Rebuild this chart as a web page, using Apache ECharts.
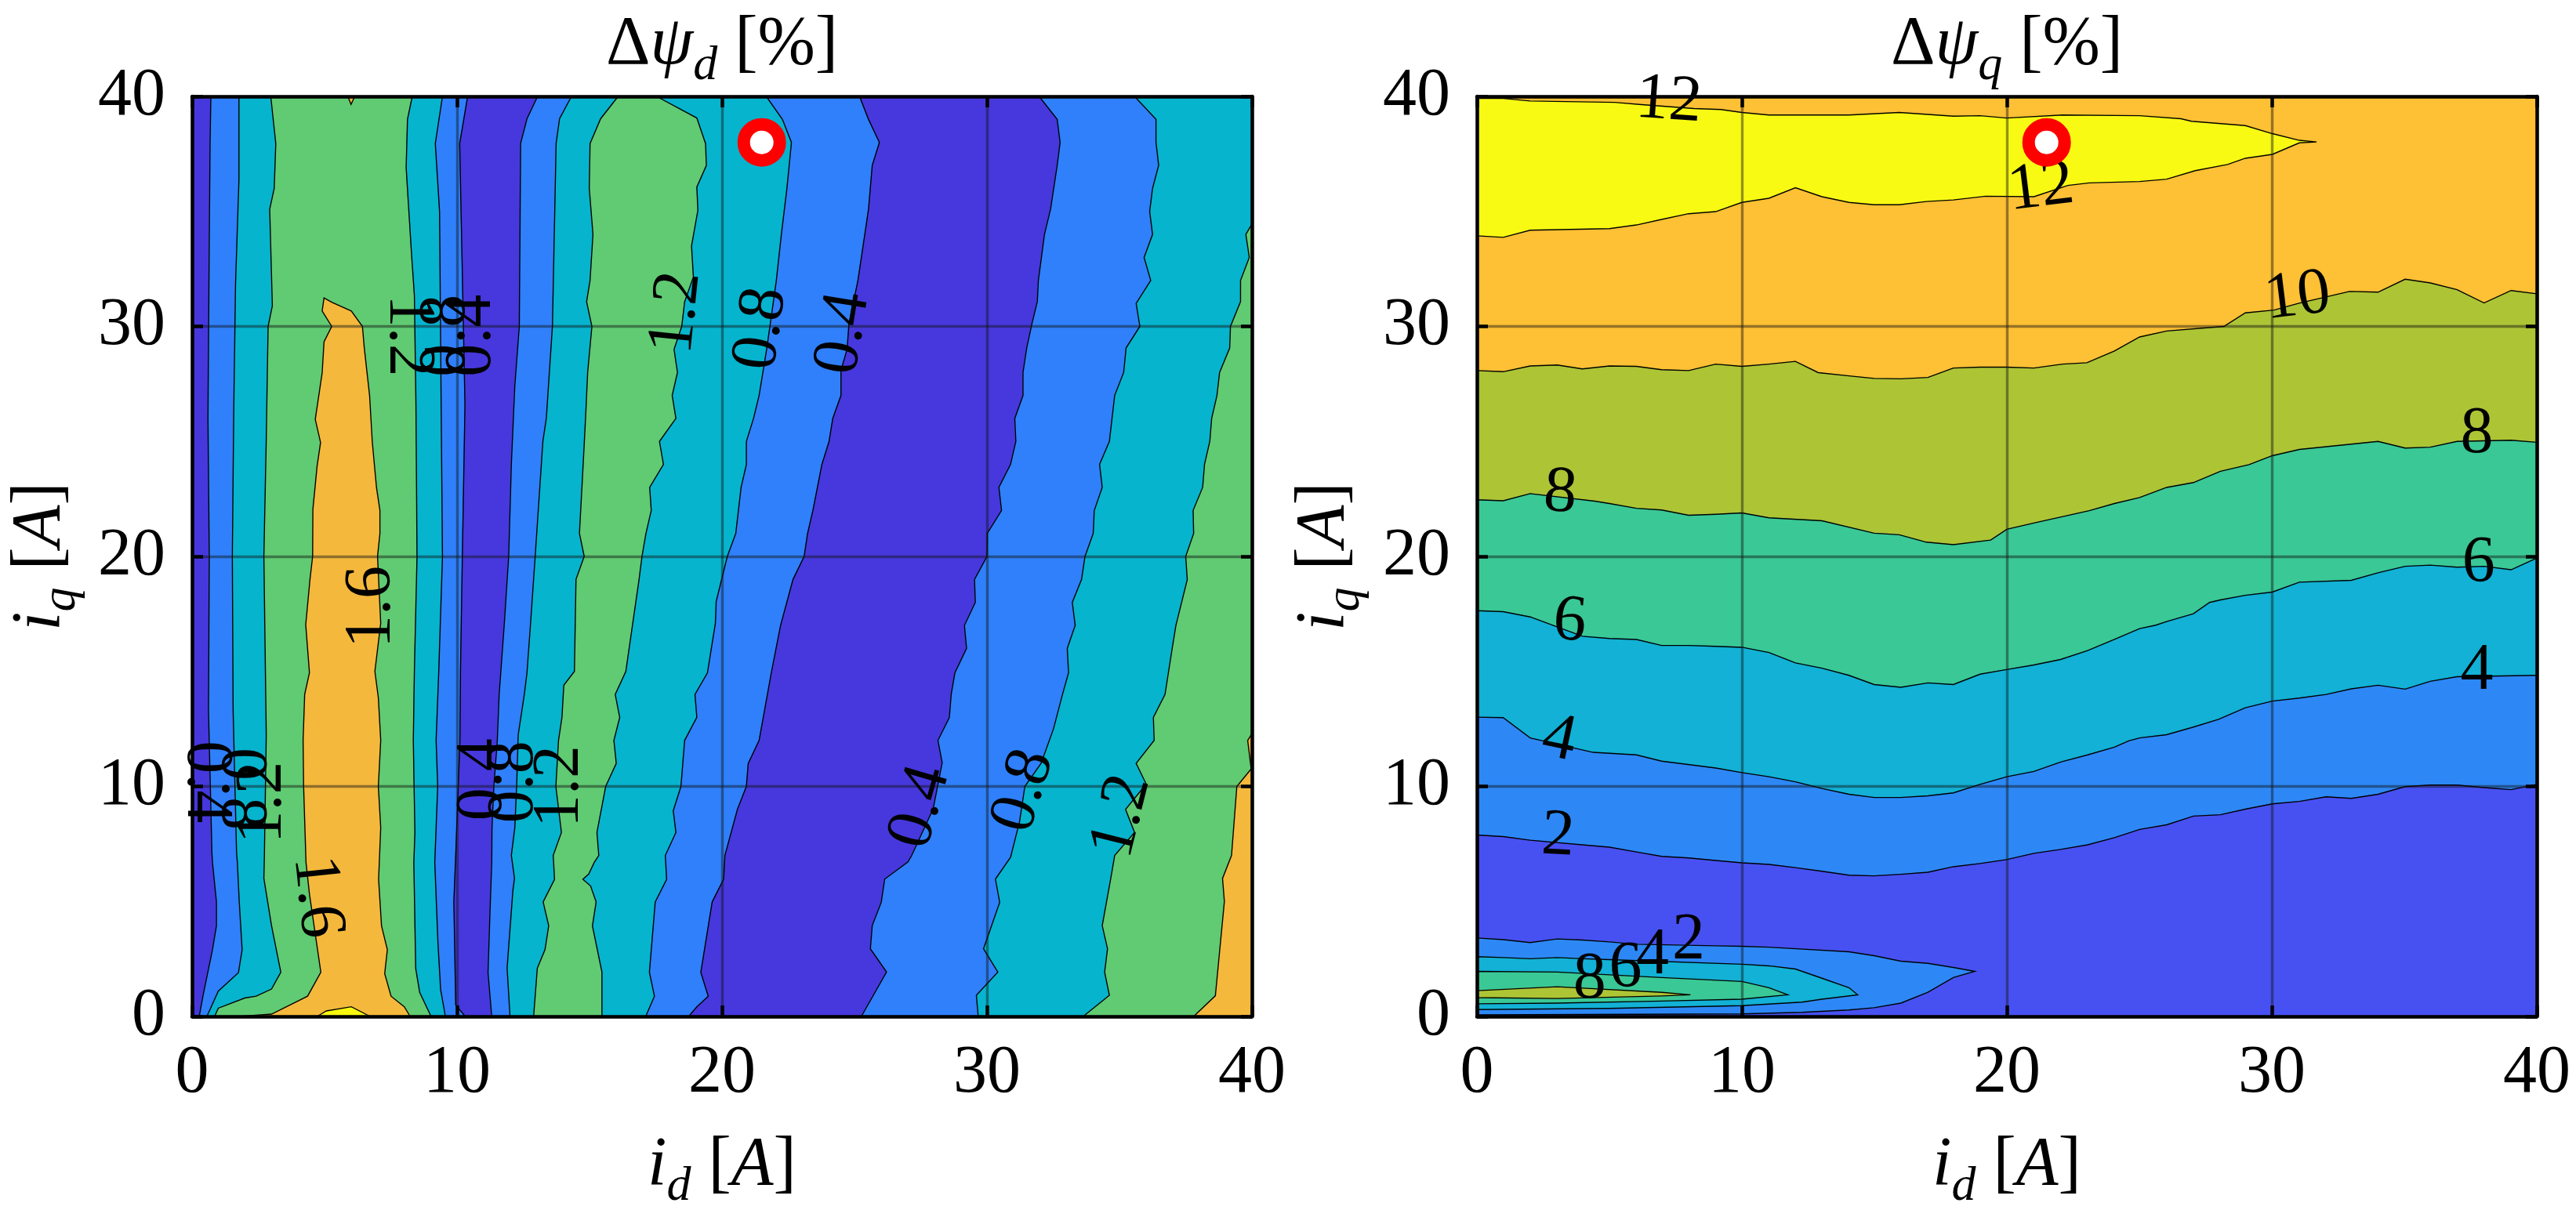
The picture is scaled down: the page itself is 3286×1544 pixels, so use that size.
<!DOCTYPE html>
<html>
<head>
<meta charset="utf-8">
<script src="https://cdn.jsdelivr.net/npm/echarts/dist/echarts.min.js"></script>
<style>
  html, body { margin: 0; padding: 0; background: #fff; }
  #chart { width: 3286px; height: 1544px; }
</style>
</head>
<body>
<div id="chart"></div>
<script>
// ---------- left map: delta psi_d, contour boundaries [id, iq] (bottom -> top) ----------
const dLevels = [0.4, 0.8, 1.2, 1.6, 2.0];
const dColors = ['#4638DC', '#2F80FA', '#06B4CE', '#60CB72', '#F4B83C', '#F8F80F'];

const dB1 = [[0.27,0],[0.42,0.94],[0.77,2.9],[0.92,3.94],[0.92,4.98],[0.77,6.7],[0.75,7.1],[0.62,13.3],[0.65,20],[0.6,26],[0.65,33.8],[0.68,38],[0.71,40]];
const dB2 = [[0.56,0],[0.99,1.1],[1.75,1.9],[1.89,2.9],[1.78,5],[1.71,6.7],[1.68,7.1],[1.55,13.3],[1.52,20],[1.57,26],[1.64,31.8],[1.77,36.4],[1.77,40]];
const dB3 = [[0.85,0],[0.99,0.36],[1.99,0.8],[2.42,0.88],[3.0,1.19],[3.35,1.92],[3.0,3.94],[2.71,6.0],[2.73,7.0],[2.8,12.25],[2.71,20],[2.8,25.1],[2.87,30],[3.03,30.9],[2.93,35.1],[3.1,36],[3.16,37.95],[2.97,40]];
const dB5 = [[9.02,0],[8.59,1.05],[8.44,2.09],[8.37,6.7],[8.41,8],[8.35,12],[8.39,15],[8.49,20],[8.45,26.6],[8.39,31.35],[8.28,33.2],[8.08,36.9],[8.13,39],[8.31,40]];
const dB6 = [[9.56,0],[9.38,1.17],[9.28,3.2],[9.16,6.7],[9.27,10],[9.21,12],[9.31,15],[9.45,20],[9.4,26.6],[9.34,35],[9.18,37.95],[9.45,40]];
const dB7 = [[10.31,0],[9.95,0.5],[9.88,5],[9.95,7],[10.11,12],[10.13,15],[10.2,20],[10.3,26.6],[10.24,30],[10.1,37.95],[10.4,40]];
const dB8 = [[11.31,0],[11.17,1.9],[11.24,4.4],[11.31,6.7],[11.32,8.2],[11.39,10],[11.52,12],[11.59,14],[11.78,17],[11.95,20],[12.05,24],[12.18,27.4],[12.35,30],[12.4,37.95],[12.64,39.03],[13.04,40]];
const dB9 = [[12.0,0],[11.89,2.1],[12.11,5.5],[12.17,6],[12.05,7],[12.18,8.2],[12.25,10],[12.31,12.25],[12.54,14],[12.64,14.94],[12.77,17],[12.95,20],[13.24,25],[13.37,26],[13.6,30],[13.74,37.95],[13.87,39.03],[14.32,40]];
const dB10 = [[12.89,0],[13.03,2.1],[13.32,2.9],[13.46,3.94],[13.25,4.98],[13.68,5.96],[13.63,7],[13.94,8],[13.73,10],[13.83,12],[13.96,13],[14.03,14.4],[14.43,15],[14.46,17],[14.49,19],[14.8,20],[14.62,21],[14.76,24],[14.85,26],[14.93,28],[15.09,30],[14.89,31.07],[15.02,32],[15.13,34],[14.99,36],[15.02,37.95],[15.42,39.03],[16.08,40]];
const dB11 = [[15.47,0],[15.47,1.92],[15.11,3.94],[15.25,4.98],[15.04,5.67],[14.75,5.96],[14.97,6.19],[15.18,6.7],[15.35,7],[15.28,8],[15.61,10],[16.01,11],[15.92,12],[16.14,13],[15.97,14],[16.37,15],[16.87,19],[16.98,20],[17.13,21],[17.33,22],[17.27,23],[17.79,24],[17.64,25],[18.26,26],[18.12,27],[18.32,28],[18.19,29],[18.48,30],[18.59,31.07],[18.92,32.15],[18.85,33.5],[19.09,35.05],[19.05,36.06],[19.41,37],[19.38,37.95],[19.05,39.06],[17.53,40]];
const dB12 = [[17.12,0],[17.45,0.88],[17.26,1.92],[17.48,4.98],[17.91,5.96],[17.86,7],[18.26,8],[18.16,8.94],[18.45,10],[18.59,12],[19.05,13],[18.98,14],[19.45,14.94],[19.75,17.1],[19.78,18.04],[20.2,20],[20.52,21],[20.72,23],[20.92,24],[20.92,25],[21.19,26],[21.4,27],[21.67,28.9],[21.87,30.5],[22.05,32],[22.24,34],[22.45,36],[22.62,38],[22.28,39],[21.67,40]];
const dB13 = [[18.74,0],[19.05,0.42],[19.48,0.88],[19.2,1.92],[19.63,4.98],[20.06,5.96],[20.11,7],[20.58,9],[20.92,10],[20.99,11],[21.4,12],[21.87,15],[22.21,17],[22.68,19],[23.1,20],[23.23,21],[23.43,22],[23.77,24],[24.04,25],[24.18,26],[24.49,27],[24.49,28.1],[24.72,29],[24.79,30.1],[25.13,32],[25.26,33],[25.53,35.1],[25.67,37],[25.94,38],[25.53,39],[25.19,40]];
const dB14 = [[25.26,0],[26.21,1.93],[25.6,2.94],[25.67,3.95],[26.01,4.96],[26.14,5.97],[27.02,6.72],[27.16,7],[27.97,9.03],[28.31,11.03],[28.15,12],[28.58,13],[28.65,14],[28.79,14.94],[29.23,16],[29.15,17],[29.56,18],[29.53,19],[30.0,20],[30.01,21],[30.55,22],[30.45,23],[30.89,24],[31.09,25],[31.05,26],[31.36,27],[31.36,28],[31.5,29.06],[31.7,30.13],[31.9,31.08],[31.94,32],[32.17,34],[32.4,35.1],[32.65,37],[32.76,38],[32.65,39],[31.97,40]];
const dB15 = [[29.67,0],[29.6,0.92],[30.41,1.93],[29.87,2.94],[30.48,4.96],[30.32,5.97],[30.89,6.92],[31.23,8.47],[31.43,10],[32.04,11],[32.51,12.5],[32.85,14],[33.08,14.94],[33.03,16],[33.33,17],[33.22,18],[33.57,19],[33.7,20],[34.01,21],[34.05,22],[34.35,23],[34.25,24],[34.62,25],[34.82,27],[35.16,28],[35.25,29.06],[35.77,30],[35.63,31],[36.18,32],[35.93,33],[36.25,34],[36.14,35],[36.25,36],[36.48,37],[36.38,38],[36.38,39],[35.57,40]];
const dB16 = [[33.63,0],[34.62,0.92],[34.44,1.93],[34.55,2.94],[34.35,3.95],[34.68,6.05],[34.82,7],[35.57,8],[35.23,9],[36.01,10.1],[35.63,11],[36.31,12],[36.28,13],[36.72,14],[36.99,16],[37.13,17],[37.56,19],[37.5,20],[37.8,21],[37.78,22],[38.14,23],[38.21,24],[38.41,25],[38.48,26],[38.68,27],[38.78,28],[39.16,29.06],[39.19,30],[39.57,31.08],[39.57,32],[39.9,33],[39.77,34],[40,34.45],[40,40]];
const dB17 = [[37.8,0],[38.62,0.9],[38.96,5],[38.89,6],[39.23,7],[39.43,10],[39.97,10.76],[39.84,12],[40,12.3],[40,40]];
// closed patches
const dOrangeL = [[1.8,0],[3.0,0.1],[3.86,0.59],[4.36,0.88],[4.86,1.92],[4.43,5.32],[4.3,6.7],[4.21,10],[4.19,12],[4.25,14],[4.43,14.94],[4.29,17.03],[4.45,19],[4.55,20],[4.56,22.05],[4.72,23.94],[4.85,24.95],[4.65,25.96],[4.91,27.98],[4.98,29.33],[5.27,30],[4.91,30.67],[4.98,31.24],[5.27,31.05]];
const dOrangeR = [[8.23,0],[8.01,0.42],[7.51,0.88],[7.27,1.86],[7.37,2.9],[7.15,3.94],[7.04,5.96],[7.12,8.2],[7.03,10],[7.12,12],[7.03,13.86],[6.9,15],[7.12,17.1],[7.0,20],[7.09,21],[7.09,22],[6.96,23],[6.8,25],[6.7,27],[6.5,29.06],[6.43,30],[6.01,30.67]];
const dYellow = [[4.72,0],[5.07,0.24],[6.01,0.42],[6.72,0]];
const dOrangeTop = [[5.88,40],[6.0,39.65],[6.14,40]];

const dLabelText = ['1.2','0.8','0.4','1.2','0.8','0.4','0.4','0.8','1.2','1.6','1.6','0.4','0.8','1.2','0.4','0.8','1.2'];
const dLabelPos = [[18.3,30.6],[21.5,29.9],[24.6,29.7],[8.15,29.6],[9.6,29.6],[10.6,29.6],[0.5,10.2],[1.8,9.9],[2.7,9.3],[4.7,5.2],[6.8,17.8],[11.0,10.3],[12.2,10.2],[13.9,10.0],[27.5,9.1],[31.4,9.8],[35.1,8.7]];
const dLabelRot = [84, 82, 81, -90, 90, 90, -90, -90, 90, -84, 90, 90, 90, 90, 74, 73, 76];

// ---------- right map: delta psi_q, contour boundaries [id, iq] (left -> right) ----------
const qLevels = [2, 4, 6, 8, 10, 12];
const qColors = ['#4751F1', '#2D88F6', '#12B1D5', '#39C896', '#ADC435', '#FEC034', '#F9FA14'];

const qR1 = [[0,39.91],[0.99,39.91],[2.01,39.8],[5.2,39.74],[6.22,39.64],[8.19,39.47],[9.21,39.43],[10,39.3],[11.02,39.19],[14.04,39.19],[15.94,39.3],[17.98,39.14],[18.99,39.16],[19.99,39.06],[22.1,39.19],[25.01,39.16],[26.57,39.03],[26.97,38.92],[29.0,38.73],[30.02,38.38],[31.04,38.09],[31.69,38.02]];
const qR2 = [[0,33.94],[0.99,33.87],[2.01,34.18],[5.0,34.25],[6.02,34.41],[6.97,34.65],[7.99,34.9],[9.01,34.99],[10,35.39],[11.02,35.57],[12.02,36.03],[13.02,35.64],[14.04,35.39],[14.99,35.29],[15.94,35.29],[16.96,35.43],[17.98,35.5],[19.2,35.66],[21.02,35.64],[22.3,36.13],[23.11,36.24],[25.01,36.3],[26.03,36.4],[27.11,36.77],[28.33,37.04],[29.0,37.31],[30.02,37.48],[31.04,37.98],[31.69,38.02]];
const qR3 = [[0,28.08],[0.99,28.03],[2.01,28.28],[3.03,28.32],[3.98,28.15],[5.0,28.28],[6.02,28.26],[6.97,28.12],[7.99,28.08],[9.01,28.36],[10,28.26],[11.02,28.36],[12.02,28.48],[12.88,27.99],[14.04,27.85],[14.99,27.74],[16.0,27.72],[17.02,27.78],[17.98,28.19],[18.99,28.23],[19.99,28.23],[21.02,28.19],[22.1,28.36],[23.02,28.42],[24.06,28.93],[25.01,29.54],[26.03,29.8],[28.19,30.0],[29.0,30.59],[30.09,30.71],[31.0,31.0],[32.93,31.52],[34.01,31.49],[35.03,32.05],[35.98,31.89],[36.99,31.6],[38.01,31.02],[39.03,31.56],[40,31.42]];
const qR4 = [[0,22.46],[0.99,22.42],[2.01,22.73],[4.45,22.4],[5.0,22.3],[6.02,22.09],[6.97,22.02],[7.99,21.79],[9.01,21.83],[10,21.89],[11.02,21.68],[13.02,21.55],[14.99,21.01],[15.94,20.94],[16.96,20.62],[17.98,20.51],[19.39,20.71],[20,21.18],[21.02,21.45],[23.11,21.99],[24.06,22.3],[25.01,22.56],[26.03,23.0],[27.04,23.21],[28.06,23.7],[29.14,23.99],[30.02,24.38],[31.04,24.65],[34.01,25.0],[35.03,24.71],[35.98,24.75],[36.99,25.0],[39.03,25.05],[40,24.96]];
const qR5 = [[0,17.64],[0.99,17.6],[2.01,17.37],[3.98,16.53],[5.0,16.43],[6.02,16.39],[6.97,16.13],[7.99,16.13],[9.01,16.09],[10,16.05],[11.02,15.82],[12.02,15.37],[13.02,15.14],[14.04,14.83],[14.99,14.43],[16.0,14.31],[17.02,14.5],[17.98,14.43],[18.99,14.88],[19.99,15.08],[21.02,15.28],[22.03,15.52],[23.05,15.91],[24.06,16.39],[25.01,16.86],[25.62,17.01],[26.03,17.17],[27.04,17.51],[27.65,18.0],[28.06,18.11],[29.0,18.31],[30.02,18.45],[31.04,18.88],[33.0,18.96],[34.01,19.29],[35.03,19.57],[35.98,19.62],[36.99,19.53],[38.01,19.57],[39.03,19.42],[40,19.93]];
const qR6 = [[0,13.01],[0.99,12.99],[2.01,12.11],[4.39,11.48],[6.02,11.37],[6.97,11.1],[9.01,10.8],[10,10.6],[11.02,10.42],[12.02,10.2],[13.02,9.91],[14.04,9.66],[14.99,9.52],[16.0,9.52],[17.02,9.59],[17.98,9.72],[18.99,10.09],[20,10.42],[21.02,10.65],[22.03,11.06],[23.05,11.37],[24.06,11.71],[24.6,11.98],[25.01,12.11],[26.03,12.25],[27.04,12.58],[27.99,12.92],[29.0,13.42],[30.02,13.71],[31.04,13.84],[32.05,14.0],[33.0,14.24],[34.01,14.4],[35.03,14.23],[35.98,14.57],[36.99,14.77],[40,14.83]];
const qR7 = [[0,7.89],[0.99,7.82],[2.01,7.66],[4.39,7.42],[5.0,7.36],[6.02,7.15],[6.97,6.96],[7.99,6.89],[9.01,6.78],[10,6.68],[11.02,6.61],[12.02,6.47],[13.02,6.31],[14.04,6.14],[14.99,6.11],[16.0,6.18],[17.02,6.27],[17.98,6.51],[18.99,6.65],[19.99,6.82],[21.02,7.09],[22.03,7.26],[23.05,7.46],[24.06,7.77],[25.01,8.13],[26.03,8.33],[27.04,8.71],[28.06,8.77],[29.0,9.01],[30.02,9.24],[31.04,9.35],[32.05,9.55],[33.0,9.48],[34.01,9.66],[35.03,9.99],[35.98,10.06],[36.99,10.06],[38.01,9.95],[39.03,9.86],[40,10.09]];
// closed low-iq island (outer to inner: 2, 4, 6, 8)
const qC2 = [[0,3.41],[0.99,3.34],[2.01,3.21],[3.03,3.37],[3.98,3.32],[5.0,3.24],[6.02,3.14],[9.01,3.07],[10,3.05],[11.02,3.01],[14.04,2.81],[14.99,2.64],[16.0,2.4],[17.02,2.31],[17.98,2.13],[18.79,1.96],[17.98,1.69],[17.02,1.05],[16.0,0.58],[14.99,0.38],[14.04,0.28],[12.27,0.18],[10,0.11],[0,0.07]];
const qC4 = [[0,2.6],[0.99,2.56],[2.01,2.51],[3.03,2.56],[3.98,2.51],[5.0,2.47],[10,2.27],[11.02,2.2],[12.02,2.06],[13.02,1.66],[14.04,1.25],[14.37,0.94],[13.02,0.75],[12.27,0.62],[10,0.47],[5.0,0.35],[0,0.3]];
const qC6 = [[0,1.96],[3.03,1.93],[6.97,1.69],[10,1.52],[11.02,1.25],[11.73,0.94],[10,0.75],[6.97,0.67],[3.03,0.58],[0,0.55]];
const qC8 = [[0,1.12],[3.03,1.29],[6.97,1.05],[8.06,0.94],[6.97,0.89],[3.03,0.78],[0,0.82]];

const qLabelText = ['12','12','10','8','6','4','8','6','4','2','8','6','4','2'];
const qLabelPos = [[7.24,39.78],[21.29,36.0],[30.97,31.26],[37.74,25.27],[37.8,19.66],[37.74,15.01],[3.14,22.73],[3.5,17.14],[3.1,12.02],[3.06,7.82],[4.25,1.56],[5.61,2.03],[6.63,2.64],[7.99,3.29]];
const qLabelRot = [-4, 7, 7, 0, 0, 0, -4, -5, -12, -3, 0, 0, 0, 0];

// operating point marker
const markerPt = [21.5, 38.0];

const tickLabels = ['0', '10', '20', '30', '40'];

// ---------- build shapes ----------
const FONT = 'Liberation Serif';
const closeLoop = (p) => p.concat([p[0]]);
const toRight = (p) => p.concat([[40, 40], [40, 0]]);
const toBottom = (p) => p.concat([[40, 0], [0, 0]]);

const dFills = [
  { poly: toRight(dB1), c: 1 }, { poly: toRight(dB2), c: 2 }, { poly: toRight(dB3), c: 3 },
  { poly: toRight(dB5), c: 2 }, { poly: toRight(dB6), c: 1 }, { poly: toRight(dB7), c: 0 },
  { poly: toRight(dB8), c: 1 }, { poly: toRight(dB9), c: 2 }, { poly: toRight(dB10), c: 3 },
  { poly: toRight(dB11), c: 2 }, { poly: toRight(dB12), c: 1 }, { poly: toRight(dB13), c: 0 },
  { poly: toRight(dB14), c: 1 }, { poly: toRight(dB15), c: 2 }, { poly: toRight(dB16), c: 3 },
  { poly: toRight(dB17), c: 4 },
  { poly: dOrangeL.concat(dOrangeR.slice().reverse()), c: 4 },
  { poly: dOrangeTop, c: 4 },
  { poly: dYellow, c: 5 }
];
const dLines = [dB1, dB2, dB3, dB5, dB6, dB7, dB8, dB9, dB10, dB11, dB12, dB13, dB14, dB15, dB16, dB17,
  dOrangeL.concat(dOrangeR.slice().reverse()), dOrangeTop, dYellow];

const qYellow = qR1.concat(qR2.slice().reverse());
const qFills = [
  { poly: qYellow, c: 6 },
  { poly: toBottom(qR3), c: 4 }, { poly: toBottom(qR4), c: 3 }, { poly: toBottom(qR5), c: 2 },
  { poly: toBottom(qR6), c: 1 }, { poly: toBottom(qR7), c: 0 },
  { poly: qC2, c: 1 }, { poly: qC4, c: 2 }, { poly: qC6, c: 3 }, { poly: qC8, c: 4 }
];
const qLines = [closeLoop(qYellow), qR3, qR4, qR5, qR6, qR7,
  closeLoop(qC2), closeLoop(qC4), closeLoop(qC6), closeLoop(qC8)];

function fillSeries(gi, shapes, colors) {
  return {
    type: 'custom', xAxisIndex: gi * 2, yAxisIndex: gi * 2, silent: true, z: 2,
    data: [0],
    renderItem: function (params, api) {
      return {
        type: 'group',
        children: shapes.map(s => ({
          type: 'polygon',
          shape: { points: s.poly.map(p => api.coord(p)) },
          style: { fill: colors[s.c], stroke: colors[s.c], lineWidth: 1 }
        }))
      };
    }
  };
}

function lineSeries(gi, lines) {
  return {
    type: 'custom', xAxisIndex: gi * 2, yAxisIndex: gi * 2, silent: true, z: 3,
    data: [0],
    renderItem: function (params, api) {
      return {
        type: 'group',
        children: lines.map(l => ({
          type: 'polyline',
          shape: { points: l.map(p => api.coord(p)) },
          style: { stroke: '#000', lineWidth: 1.4, fill: null }
        }))
      };
    }
  };
}

function labelSeries(gi, texts, pos, rot) {
  return {
    type: 'custom', xAxisIndex: gi * 2, yAxisIndex: gi * 2, silent: true, z: 10,
    data: [0],
    renderItem: function (params, api) {
      return {
        type: 'group',
        children: texts.map((t, i) => {
          const p = api.coord(pos[i]);
          return {
            type: 'text', x: p[0], y: p[1], rotation: rot[i] * Math.PI / 180,
            style: { text: t, fontSize: 84, fontFamily: FONT, fill: '#000', align: 'center', verticalAlign: 'middle' }
          };
        })
      };
    }
  };
}

function markerSeries(gi) {
  return {
    type: 'scatter', xAxisIndex: gi * 2, yAxisIndex: gi * 2, z: 12, silent: true,
    symbol: 'circle', symbolSize: 46,
    itemStyle: { color: '#ffffff', borderColor: '#ff0000', borderWidth: 16, opacity: 1 },
    data: [markerPt]
  };
}

const gridPos = [
  { left: 245, top: 123, width: 1352, height: 1174 },
  { left: 1884, top: 123, width: 1352, height: 1174 }
];

const axisLine = { show: true, onZero: false, lineStyle: { color: '#000', width: 4.5 } };
const axisTick = { show: true, inside: true, length: 14, lineStyle: { color: '#000', width: 4.5 } };
const splitLine = { show: true, lineStyle: { color: 'rgba(20,20,20,0.45)', width: 3.4 } };
const tickFmt = v => tickLabels[Math.round(v / 10)];

const xAxes = [], yAxes = [];
gridPos.forEach((g, gi) => {
  xAxes.push({ gridIndex: gi, type: 'value', min: 0, max: 40, interval: 10, position: 'bottom', z: 5,
    axisLine, axisTick, splitLine,
    axisLabel: { fontSize: 86, fontFamily: FONT, color: '#000', margin: 30, formatter: tickFmt } });
  xAxes.push({ gridIndex: gi, type: 'value', min: 0, max: 40, interval: 10, position: 'top', z: 5,
    axisLine, axisTick, splitLine: { show: false }, axisLabel: { show: false } });
  yAxes.push({ gridIndex: gi, type: 'value', min: 0, max: 40, interval: 10, position: 'left', z: 5,
    axisLine, axisTick, splitLine,
    axisLabel: { fontSize: 86, fontFamily: FONT, color: '#000', margin: 34, formatter: tickFmt } });
  yAxes.push({ gridIndex: gi, type: 'value', min: 0, max: 40, interval: 10, position: 'right', z: 5,
    axisLine, axisTick, splitLine: { show: false }, axisLabel: { show: false } });
});

const rich = {
  g: { fontSize: 88, fontFamily: FONT, color: '#000', lineHeight: 116 },
  i: { fontSize: 88, fontFamily: FONT, fontStyle: 'italic', color: '#000', lineHeight: 116 },
  s: { fontSize: 62, fontFamily: FONT, fontStyle: 'italic', color: '#000', lineHeight: 62, verticalAlign: 'bottom' }
};
function richText(x, y, text, rotation) {
  return { type: 'text', x: x, y: y, rotation: rotation || 0, z: 20,
    style: { text: text, rich: rich, align: 'center', verticalAlign: 'middle' } };
}

const chart = echarts.init(document.getElementById('chart'), null, { renderer: 'canvas' });
chart.setOption({
  animation: false,
  backgroundColor: '#fff',
  textStyle: { fontFamily: FONT },
  grid: [
    Object.assign({ show: true, backgroundColor: dColors[0], borderWidth: 0 }, gridPos[0]),
    Object.assign({ show: true, backgroundColor: qColors[5], borderWidth: 0 }, gridPos[1])
  ],
  xAxis: xAxes,
  yAxis: yAxes,
  graphic: [
    richText(921, 58, '{g|Δ}{i|ψ}{s|d}{g| [%]}'),
    richText(2560, 58, '{g|Δ}{i|ψ}{s|q}{g| [%]}'),
    richText(921, 1488, '{i|i}{s|d}{g| [}{i|A}{g|]}'),
    richText(2560, 1488, '{i|i}{s|d}{g| [}{i|A}{g|]}'),
    richText(52, 710, '{i|i}{s|q}{g| [}{i|A}{g|]}', Math.PI / 2),
    richText(1690, 710, '{i|i}{s|q}{g| [}{i|A}{g|]}', Math.PI / 2)
  ],
  series: [
    fillSeries(0, dFills, dColors),
    lineSeries(0, dLines),
    labelSeries(0, dLabelText, dLabelPos, dLabelRot),
    markerSeries(0),
    fillSeries(1, qFills, qColors),
    lineSeries(1, qLines),
    labelSeries(1, qLabelText, qLabelPos, qLabelRot),
    markerSeries(1)
  ]
});
</script>
</body>
</html>
